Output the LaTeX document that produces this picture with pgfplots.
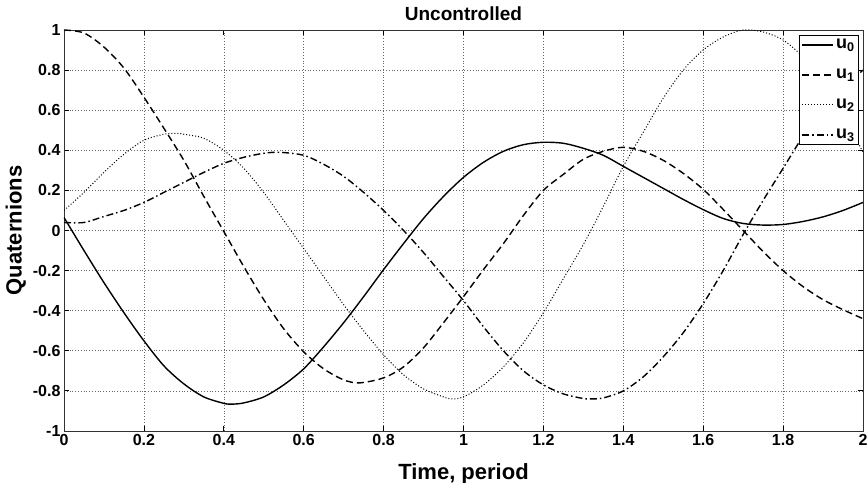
\documentclass[border=0pt]{standalone}
\usepackage{fontspec}
\setmainfont{Liberation Sans}
\usepackage{pgfplots}
\pgfplotsset{compat=1.18}
\usetikzlibrary{calc}
\newcommand{\tf}{\fontsize{16}{18}\selectfont\bfseries}
\newcommand{\titf}{\fontsize{19}{21}\selectfont\bfseries}
\newcommand{\labf}{\fontsize{22}{24}\selectfont\bfseries}
\newcommand{\legf}{\fontsize{18}{20}\selectfont\bfseries}
\begin{document}
\begin{tikzpicture}
\begin{axis}[
  scale only axis, width=799pt, height=401pt,
  xmin=0, xmax=2, ymin=-1, ymax=1,
  xtick={0,0.2,0.4,0.6,0.8,1,1.2,1.4,1.6,1.8,2},
  xticklabels={0,0.2,0.4,0.6,0.8,1,1.2,1.4,1.6,1.8,2},
  ytick={-1,-0.8,-0.6,-0.4,-0.2,0,0.2,0.4,0.6,0.8,1},
  yticklabels={-1,-0.8,-0.6,-0.4,-0.2,0,0.2,0.4,0.6,0.8,1},
  tick align=inside, major tick length=5pt,
  tick style={black, line width=0.8pt},
  axis line style={black!80, line width=0.9pt},
  grid=major,
  major grid style={black!60, dash pattern=on 0.8pt off 2pt, line width=0.6pt},
  ticklabel style={font=\tf},
  title={Uncontrolled}, title style={font=\titf, yshift=0pt},
  xlabel={Time, period}, ylabel={Quaternions},
  label style={font=\labf},
  xlabel style={yshift=-11pt},
  legend style={at={(rel axis cs:0.995,0.9875)}, anchor=north east, draw=black, line width=0.8pt, font=\legf, row sep=15pt, inner sep=2pt},
  legend cell align=left,
  legend image code/.code={\draw[#1] (0pt,0pt) -- (31pt,0pt);},
]
\addplot[black, line width=1.4pt, smooth] coordinates {
(0.00,0.065) (0.05,-0.10) (0.10,-0.26) (0.15,-0.41) (0.20,-0.55) (0.25,-0.675)
(0.30,-0.765) (0.35,-0.83) (0.40,-0.862) (0.42,-0.866) (0.45,-0.86) (0.50,-0.83)
(0.55,-0.77) (0.60,-0.69) (0.65,-0.58) (0.70,-0.46) (0.75,-0.33) (0.80,-0.195)
(0.85,-0.065) (0.90,0.06) (0.95,0.17) (1.00,0.265) (1.05,0.34) (1.10,0.395)
(1.15,0.428) (1.20,0.44) (1.25,0.435) (1.30,0.41) (1.35,0.375) (1.40,0.32)
(1.45,0.265) (1.50,0.21) (1.55,0.155) (1.60,0.104) (1.65,0.06) (1.70,0.035)
(1.75,0.027) (1.80,0.03) (1.85,0.045) (1.90,0.068) (1.95,0.10) (2.00,0.14)};
\addlegendentry{u\textsubscript{0}}
\addplot[black, line width=1.4pt, dash pattern=on 7pt off 4pt, smooth] coordinates {
(0.00,1.00) (0.05,0.985) (0.10,0.915) (0.15,0.81) (0.20,0.665) (0.25,0.51)
(0.30,0.35) (0.35,0.17) (0.40,-0.005) (0.45,-0.18) (0.50,-0.345) (0.55,-0.49)
(0.60,-0.605) (0.65,-0.69) (0.70,-0.745) (0.74,-0.76) (0.80,-0.735) (0.85,-0.68)
(0.90,-0.585) (0.95,-0.46) (1.00,-0.33) (1.05,-0.195) (1.10,-0.065) (1.15,0.075)
(1.20,0.20) (1.25,0.28) (1.30,0.355) (1.35,0.395) (1.40,0.415) (1.45,0.395)
(1.50,0.35) (1.55,0.285) (1.60,0.205) (1.65,0.105) (1.70,0.00) (1.75,-0.105)
(1.80,-0.20) (1.85,-0.28) (1.90,-0.345) (1.95,-0.395) (2.00,-0.44)};
\addlegendentry{u\textsubscript{1}}
\addplot[black, line width=1.0pt, dash pattern=on 1pt off 2pt, smooth] coordinates {
(0.00,0.10) (0.05,0.19) (0.10,0.29) (0.15,0.38) (0.20,0.45) (0.25,0.48)
(0.28,0.485) (0.30,0.48) (0.35,0.46) (0.40,0.40) (0.45,0.31) (0.50,0.19)
(0.55,0.05) (0.60,-0.09) (0.65,-0.23) (0.70,-0.37) (0.75,-0.50) (0.80,-0.62)
(0.85,-0.72) (0.90,-0.79) (0.95,-0.83) (0.97,-0.84) (1.00,-0.83) (1.05,-0.77)
(1.10,-0.68) (1.15,-0.56) (1.20,-0.41) (1.25,-0.24) (1.30,-0.07) (1.35,0.12)
(1.40,0.32) (1.45,0.49) (1.50,0.66) (1.55,0.80) (1.60,0.90) (1.65,0.965)
(1.70,1.00) (1.75,0.99) (1.80,0.95) (1.85,0.865) (1.90,0.74) (1.95,0.58) (2.00,0.39)};
\addlegendentry{u\textsubscript{2}}
\addplot[black, line width=1.4pt, dash pattern=on 7pt off 3pt on 1.5pt off 3pt, smooth] coordinates {
(0.00,0.04) (0.05,0.04) (0.10,0.07) (0.15,0.10) (0.20,0.14) (0.25,0.19)
(0.30,0.24) (0.35,0.29) (0.40,0.335) (0.45,0.365) (0.50,0.385) (0.54,0.39)
(0.60,0.375) (0.65,0.33) (0.70,0.27) (0.75,0.19) (0.80,0.10) (0.85,0.00)
(0.90,-0.11) (0.95,-0.23) (1.00,-0.35) (1.05,-0.48) (1.10,-0.60) (1.15,-0.70)
(1.20,-0.77) (1.25,-0.815) (1.30,-0.838) (1.32,-0.84) (1.35,-0.835) (1.40,-0.80)
(1.45,-0.73) (1.50,-0.63) (1.55,-0.51) (1.60,-0.365) (1.65,-0.20) (1.70,-0.02)
(1.75,0.15) (1.80,0.31) (1.85,0.47) (1.90,0.60) (1.95,0.71) (2.00,0.80)};
\addlegendentry{u\textsubscript{3}}
\end{axis}
\pgfresetboundingbox
\path[use as bounding box] ($(current axis.south west)+(-64pt,-52pt)$) rectangle ($(current axis.north east)+(5pt,30pt)$);
\end{tikzpicture}
\end{document}
